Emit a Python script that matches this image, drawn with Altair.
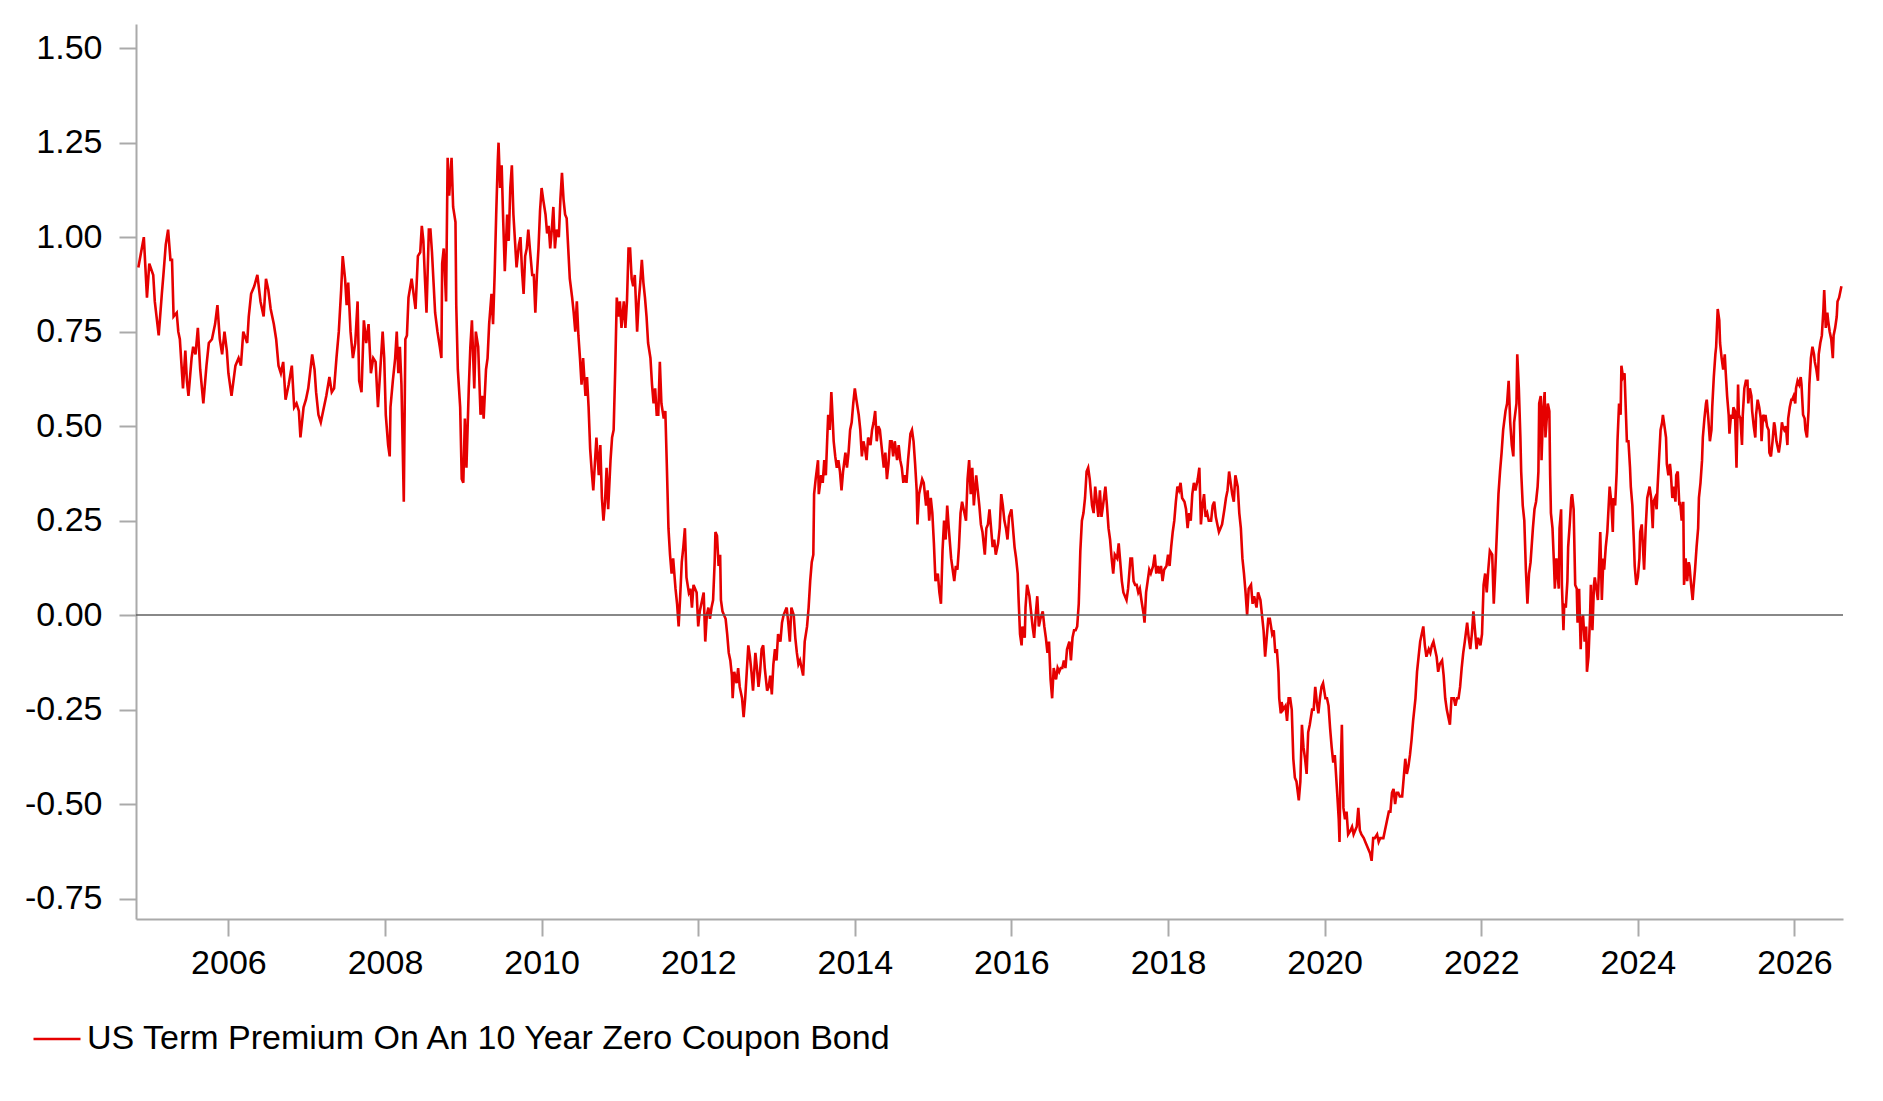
import altair as alt
import pandas as pd

SERIES = "US Term Premium On An 10 Year Zero Coupon Bond"
RED = "#e60000"

# (decimal year, term premium in %)
tp_2005_2008 = [
    (2004.85, 0.92), (2004.92, 1.00), (2004.94, 0.92), (2004.96, 0.84), (2004.99, 0.93),
    (2005.04, 0.90), (2005.06, 0.83), (2005.11, 0.74), (2005.15, 0.85), (2005.17, 0.90),
    (2005.20, 0.98), (2005.23, 1.02), (2005.26, 0.94), (2005.28, 0.94), (2005.30, 0.79),
    (2005.34, 0.80), (2005.36, 0.75), (2005.38, 0.73), (2005.42, 0.60), (2005.45, 0.70),
    (2005.47, 0.62), (2005.49, 0.58), (2005.53, 0.68), (2005.55, 0.71), (2005.58, 0.69),
    (2005.61, 0.76), (2005.64, 0.65), (2005.68, 0.56), (2005.72, 0.66), (2005.75, 0.72),
    (2005.79, 0.73), (2005.83, 0.77), (2005.86, 0.82), (2005.89, 0.73), (2005.92, 0.69),
    (2005.95, 0.75), (2005.98, 0.70), (2006.00, 0.64), (2006.04, 0.58), (2006.09, 0.66),
    (2006.13, 0.68), (2006.16, 0.66), (2006.19, 0.75), (2006.24, 0.72), (2006.26, 0.79),
    (2006.29, 0.85), (2006.33, 0.87), (2006.37, 0.90), (2006.41, 0.83), (2006.45, 0.79),
    (2006.48, 0.89), (2006.51, 0.86), (2006.54, 0.81), (2006.58, 0.77), (2006.61, 0.73),
    (2006.64, 0.66), (2006.67, 0.64), (2006.70, 0.67), (2006.73, 0.57), (2006.77, 0.61),
    (2006.81, 0.66), (2006.84, 0.55), (2006.87, 0.56), (2006.90, 0.54), (2006.92, 0.47),
    (2006.96, 0.55), (2006.99, 0.57), (2007.02, 0.60), (2007.07, 0.69), (2007.10, 0.65),
    (2007.12, 0.59), (2007.15, 0.53), (2007.18, 0.51), (2007.21, 0.54), (2007.25, 0.58),
    (2007.29, 0.63), (2007.32, 0.59), (2007.35, 0.60), (2007.38, 0.68), (2007.41, 0.75),
    (2007.44, 0.86), (2007.46, 0.95), (2007.49, 0.89), (2007.51, 0.82), (2007.53, 0.88),
    (2007.56, 0.75), (2007.59, 0.68), (2007.62, 0.72), (2007.65, 0.83), (2007.67, 0.62),
    (2007.70, 0.59), (2007.73, 0.78), (2007.76, 0.72), (2007.79, 0.77), (2007.82, 0.64),
    (2007.85, 0.68), (2007.88, 0.67), (2007.91, 0.55), (2007.94, 0.65), (2007.97, 0.75),
    (2007.99, 0.68), (2008.01, 0.53), (2008.04, 0.45), (2008.06, 0.42), (2008.07, 0.55),
    (2008.10, 0.62), (2008.13, 0.68), (2008.15, 0.75), (2008.17, 0.64), (2008.19, 0.71),
    (2008.21, 0.61), (2008.24, 0.30), (2008.26, 0.73), (2008.28, 0.74), (2008.30, 0.84),
]

tp_2008_2011 = [
    (2008.34, 0.89), (2008.39, 0.81), (2008.42, 0.95), (2008.45, 0.96), (2008.47, 1.03),
    (2008.49, 0.99), (2008.51, 0.89), (2008.53, 0.80), (2008.56, 1.02), (2008.58, 1.02),
    (2008.60, 0.96), (2008.62, 0.88), (2008.64, 0.80), (2008.67, 0.75), (2008.70, 0.71),
    (2008.72, 0.68), (2008.73, 0.93), (2008.75, 0.97), (2008.78, 0.83), (2008.80, 1.21),
    (2008.82, 1.11), (2008.85, 1.21), (2008.87, 1.08), (2008.90, 1.04), (2008.91, 0.82),
    (2008.93, 0.65), (2008.96, 0.55), (2008.98, 0.36), (2009.00, 0.35), (2009.02, 0.52),
    (2009.04, 0.39), (2009.07, 0.60), (2009.09, 0.71), (2009.11, 0.78), (2009.14, 0.60),
    (2009.16, 0.75), (2009.19, 0.71), (2009.22, 0.53), (2009.24, 0.58), (2009.26, 0.52),
    (2009.29, 0.65), (2009.31, 0.68), (2009.33, 0.77), (2009.36, 0.85), (2009.38, 0.77),
    (2009.40, 0.90), (2009.42, 1.06), (2009.44, 1.20), (2009.45, 1.25), (2009.47, 1.13),
    (2009.49, 1.19), (2009.51, 1.04), (2009.53, 0.91), (2009.56, 1.06), (2009.58, 0.99),
    (2009.60, 1.13), (2009.62, 1.19), (2009.64, 1.06), (2009.66, 0.99), (2009.68, 0.92),
    (2009.71, 0.98), (2009.73, 1.00), (2009.75, 0.91), (2009.77, 0.85), (2009.79, 0.95),
    (2009.81, 0.97), (2009.83, 1.02), (2009.85, 0.97), (2009.88, 0.90), (2009.90, 0.90),
    (2009.92, 0.80), (2009.94, 0.90), (2009.96, 0.97), (2009.98, 1.07), (2010.00, 1.13),
    (2010.02, 1.10), (2010.05, 1.06), (2010.07, 1.01), (2010.09, 1.03), (2010.11, 0.97),
    (2010.13, 1.02), (2010.15, 1.08), (2010.17, 0.97), (2010.19, 1.02), (2010.22, 1.00),
    (2010.24, 1.10), (2010.26, 1.17), (2010.28, 1.10), (2010.30, 1.06), (2010.32, 1.05),
    (2010.34, 0.97), (2010.36, 0.89), (2010.39, 0.84), (2010.41, 0.80), (2010.43, 0.75),
    (2010.45, 0.83), (2010.47, 0.74), (2010.49, 0.68), (2010.51, 0.61), (2010.53, 0.68),
    (2010.56, 0.58), (2010.58, 0.63), (2010.60, 0.55), (2010.62, 0.44), (2010.64, 0.38),
    (2010.66, 0.33), (2010.68, 0.40), (2010.70, 0.47), (2010.73, 0.37), (2010.75, 0.45),
    (2010.77, 0.31), (2010.79, 0.25), (2010.81, 0.30), (2010.83, 0.39), (2010.85, 0.28),
    (2010.88, 0.41), (2010.90, 0.47), (2010.92, 0.49), (2010.94, 0.65), (2010.96, 0.84),
    (2010.98, 0.79), (2011.00, 0.83), (2011.02, 0.76), (2011.05, 0.83), (2011.07, 0.76),
    (2011.09, 0.83), (2011.11, 0.97), (2011.13, 0.97), (2011.15, 0.89), (2011.17, 0.87),
    (2011.19, 0.90), (2011.22, 0.75), (2011.24, 0.83), (2011.26, 0.88), (2011.28, 0.94),
    (2011.30, 0.88), (2011.32, 0.84), (2011.34, 0.79), (2011.36, 0.72), (2011.39, 0.68),
    (2011.41, 0.61), (2011.43, 0.56), (2011.45, 0.60), (2011.47, 0.53), (2011.49, 0.53),
    (2011.51, 0.67), (2011.53, 0.56), (2011.56, 0.52), (2011.58, 0.54), (2011.60, 0.39),
    (2011.62, 0.23), (2011.64, 0.16), (2011.66, 0.11), (2011.68, 0.15), (2011.71, 0.07),
    (2011.73, 0.03), (2011.75, -0.03), (2011.77, 0.05), (2011.79, 0.14), (2011.81, 0.18),
    (2011.83, 0.23), (2011.85, 0.10), (2011.88, 0.06), (2011.90, 0.07), (2011.92, 0.02),
    (2011.94, 0.08),
]

tp_2012_2015 = [
    (2011.98, 0.06), (2012.00, -0.03), (2012.02, 0.01), (2012.05, 0.04), (2012.07, 0.06),
    (2012.09, -0.07), (2012.11, 0.00), (2012.13, 0.02), (2012.15, -0.01), (2012.17, 0.02),
    (2012.19, 0.04), (2012.21, 0.14), (2012.22, 0.22), (2012.24, 0.21), (2012.26, 0.13),
    (2012.28, 0.16), (2012.29, 0.04), (2012.31, 0.01), (2012.33, 0.00), (2012.35, -0.01),
    (2012.37, -0.05), (2012.39, -0.10), (2012.41, -0.12), (2012.43, -0.16), (2012.44, -0.22),
    (2012.46, -0.15), (2012.49, -0.18), (2012.51, -0.14), (2012.53, -0.19), (2012.56, -0.22),
    (2012.58, -0.27), (2012.60, -0.22), (2012.62, -0.15), (2012.64, -0.08), (2012.66, -0.11),
    (2012.68, -0.15), (2012.70, -0.20), (2012.73, -0.10), (2012.75, -0.14), (2012.77, -0.19),
    (2012.79, -0.15), (2012.81, -0.09), (2012.83, -0.08), (2012.85, -0.14), (2012.88, -0.20),
    (2012.90, -0.19), (2012.92, -0.16), (2012.94, -0.21), (2012.96, -0.13), (2012.98, -0.09),
    (2013.00, -0.12), (2013.02, -0.05), (2013.05, -0.07), (2013.07, -0.02), (2013.09, 0.00),
    (2013.11, 0.01), (2013.13, 0.02), (2013.15, -0.02), (2013.17, -0.07), (2013.19, 0.02),
    (2013.22, 0.00), (2013.24, -0.06), (2013.26, -0.10), (2013.28, -0.13), (2013.30, -0.12),
    (2013.32, -0.14), (2013.34, -0.16), (2013.36, -0.07), (2013.39, -0.03), (2013.41, 0.02),
    (2013.43, 0.09), (2013.45, 0.14), (2013.47, 0.16), (2013.48, 0.32), (2013.50, 0.36),
    (2013.53, 0.41), (2013.54, 0.32), (2013.57, 0.37), (2013.59, 0.35), (2013.61, 0.41),
    (2013.63, 0.37), (2013.65, 0.48), (2013.66, 0.53), (2013.68, 0.49), (2013.70, 0.59),
    (2013.71, 0.55), (2013.73, 0.46), (2013.75, 0.42), (2013.77, 0.39), (2013.79, 0.41),
    (2013.81, 0.38), (2013.83, 0.33), (2013.85, 0.38), (2013.88, 0.43), (2013.90, 0.39),
    (2013.92, 0.43), (2013.94, 0.49), (2013.96, 0.51), (2013.98, 0.56), (2014.00, 0.60),
    (2014.02, 0.57), (2014.05, 0.53), (2014.07, 0.49), (2014.09, 0.42), (2014.11, 0.46),
    (2014.13, 0.44), (2014.15, 0.41), (2014.17, 0.47), (2014.20, 0.45), (2014.22, 0.49),
    (2014.24, 0.51), (2014.26, 0.54), (2014.28, 0.46), (2014.30, 0.50), (2014.32, 0.49),
    (2014.34, 0.45), (2014.37, 0.39), (2014.39, 0.43), (2014.41, 0.36), (2014.43, 0.40),
    (2014.45, 0.46), (2014.47, 0.46), (2014.49, 0.42), (2014.51, 0.46), (2014.54, 0.41),
    (2014.56, 0.45), (2014.58, 0.41), (2014.60, 0.39), (2014.62, 0.35), (2014.64, 0.37),
    (2014.66, 0.35), (2014.68, 0.41), (2014.71, 0.48), (2014.73, 0.49), (2014.75, 0.46),
    (2014.77, 0.40), (2014.79, 0.33), (2014.80, 0.24), (2014.82, 0.32), (2014.84, 0.34),
    (2014.86, 0.36), (2014.88, 0.35), (2014.91, 0.29), (2014.93, 0.33), (2014.95, 0.25),
    (2014.97, 0.31), (2014.99, 0.27), (2015.01, 0.19), (2015.03, 0.09), (2015.06, 0.11),
    (2015.08, 0.06), (2015.10, 0.03), (2015.12, 0.17), (2015.14, 0.25), (2015.16, 0.20),
    (2015.18, 0.29), (2015.20, 0.23), (2015.23, 0.15), (2015.25, 0.12), (2015.27, 0.09),
    (2015.29, 0.13), (2015.31, 0.12), (2015.33, 0.18), (2015.35, 0.27), (2015.37, 0.30),
    (2015.40, 0.27), (2015.42, 0.25), (2015.44, 0.36), (2015.46, 0.41), (2015.48, 0.32),
    (2015.50, 0.39), (2015.52, 0.29),
]

tp_2015_2019 = [
    (2015.55, 0.37), (2015.57, 0.33), (2015.59, 0.29), (2015.61, 0.24), (2015.63, 0.22),
    (2015.66, 0.16), (2015.68, 0.23), (2015.70, 0.24), (2015.72, 0.28), (2015.74, 0.23),
    (2015.76, 0.18), (2015.78, 0.20), (2015.80, 0.16), (2015.83, 0.19), (2015.85, 0.23),
    (2015.87, 0.32), (2015.89, 0.29), (2015.91, 0.25), (2015.93, 0.23), (2015.95, 0.20),
    (2015.97, 0.26), (2016.00, 0.28), (2016.02, 0.23), (2016.04, 0.18), (2016.06, 0.15),
    (2016.08, 0.11), (2016.09, 0.05), (2016.11, -0.05), (2016.13, -0.08), (2016.14, -0.03),
    (2016.17, -0.06), (2016.18, 0.02), (2016.20, 0.08), (2016.23, 0.05), (2016.25, 0.01),
    (2016.27, -0.03), (2016.29, -0.06), (2016.31, 0.00), (2016.33, 0.05), (2016.35, -0.03),
    (2016.37, -0.01), (2016.40, 0.01), (2016.42, -0.03), (2016.44, -0.06), (2016.46, -0.10),
    (2016.48, -0.07), (2016.50, -0.17), (2016.52, -0.22), (2016.54, -0.14), (2016.57, -0.17),
    (2016.59, -0.14), (2016.61, -0.15), (2016.63, -0.14), (2016.65, -0.14), (2016.67, -0.12),
    (2016.69, -0.14), (2016.71, -0.09), (2016.74, -0.07), (2016.76, -0.12), (2016.78, -0.06),
    (2016.80, -0.04), (2016.82, -0.04), (2016.84, -0.03), (2016.86, 0.03), (2016.88, 0.17),
    (2016.90, 0.25), (2016.92, 0.27), (2016.94, 0.31), (2016.96, 0.38), (2016.98, 0.39),
    (2017.00, 0.36), (2017.03, 0.29), (2017.05, 0.27), (2017.07, 0.34), (2017.09, 0.30),
    (2017.11, 0.26), (2017.13, 0.33), (2017.15, 0.26), (2017.17, 0.29), (2017.20, 0.34),
    (2017.22, 0.29), (2017.24, 0.23), (2017.26, 0.20), (2017.28, 0.15), (2017.30, 0.11),
    (2017.32, 0.16), (2017.35, 0.15), (2017.37, 0.19), (2017.39, 0.14), (2017.41, 0.09),
    (2017.43, 0.06), (2017.45, 0.05), (2017.47, 0.04), (2017.49, 0.07), (2017.52, 0.15),
    (2017.54, 0.15), (2017.56, 0.09), (2017.58, 0.08), (2017.60, 0.08), (2017.62, 0.06),
    (2017.64, 0.07), (2017.66, 0.04), (2017.69, 0.00), (2017.70, -0.02), (2017.72, 0.06),
    (2017.74, 0.09), (2017.76, 0.12), (2017.78, 0.11), (2017.81, 0.13), (2017.83, 0.16),
    (2017.85, 0.11), (2017.87, 0.13), (2017.89, 0.11), (2017.91, 0.13), (2017.93, 0.09),
    (2017.95, 0.12), (2017.98, 0.13), (2018.00, 0.16), (2018.02, 0.13), (2018.04, 0.18),
    (2018.06, 0.22), (2018.08, 0.25), (2018.10, 0.30), (2018.12, 0.34), (2018.14, 0.33),
    (2018.16, 0.35), (2018.18, 0.31), (2018.21, 0.30), (2018.23, 0.28), (2018.25, 0.23),
    (2018.27, 0.27), (2018.29, 0.25), (2018.31, 0.32), (2018.33, 0.35), (2018.35, 0.33),
    (2018.38, 0.36), (2018.40, 0.39), (2018.42, 0.24), (2018.44, 0.29), (2018.46, 0.32),
    (2018.48, 0.26), (2018.50, 0.27), (2018.52, 0.25), (2018.55, 0.25), (2018.57, 0.29),
    (2018.59, 0.30), (2018.61, 0.26), (2018.63, 0.24), (2018.65, 0.22), (2018.67, 0.23),
    (2018.69, 0.24), (2018.72, 0.28), (2018.74, 0.31), (2018.76, 0.33), (2018.78, 0.38),
    (2018.80, 0.35), (2018.82, 0.32), (2018.84, 0.30), (2018.86, 0.37), (2018.89, 0.34),
    (2018.91, 0.27), (2018.93, 0.23), (2018.95, 0.15), (2018.97, 0.11), (2018.99, 0.06),
    (2019.01, 0.00), (2019.03, 0.07), (2019.06, 0.08), (2019.08, 0.03), (2019.10, 0.05),
]

tp_2019_2022 = [
    (2019.11, 0.04), (2019.13, 0.02), (2019.15, 0.06), (2019.18, 0.04), (2019.20, 0.00),
    (2019.22, -0.04), (2019.24, -0.11), (2019.26, -0.06), (2019.28, -0.01), (2019.30, -0.01),
    (2019.33, -0.05), (2019.35, -0.04), (2019.37, -0.10), (2019.39, -0.09), (2019.41, -0.15),
    (2019.42, -0.22), (2019.44, -0.26), (2019.45, -0.23), (2019.47, -0.25), (2019.50, -0.24),
    (2019.52, -0.28), (2019.54, -0.22), (2019.56, -0.22), (2019.58, -0.25), (2019.60, -0.38),
    (2019.62, -0.43), (2019.64, -0.44), (2019.67, -0.49), (2019.69, -0.44), (2019.71, -0.29),
    (2019.73, -0.35), (2019.75, -0.38), (2019.77, -0.42), (2019.79, -0.31), (2019.81, -0.29),
    (2019.84, -0.25), (2019.86, -0.25), (2019.88, -0.19), (2019.90, -0.23), (2019.92, -0.26),
    (2019.94, -0.22), (2019.96, -0.19), (2019.98, -0.18), (2020.01, -0.22), (2020.03, -0.22),
    (2020.05, -0.24), (2020.07, -0.30), (2020.09, -0.35), (2020.11, -0.39), (2020.13, -0.37),
    (2020.16, -0.47), (2020.18, -0.54), (2020.19, -0.60), (2020.20, -0.45), (2020.22, -0.29),
    (2020.24, -0.51), (2020.26, -0.54), (2020.28, -0.52), (2020.30, -0.58), (2020.33, -0.57),
    (2020.35, -0.56), (2020.37, -0.58), (2020.39, -0.57), (2020.41, -0.56), (2020.43, -0.51),
    (2020.45, -0.57), (2020.47, -0.58), (2020.50, -0.59), (2020.52, -0.60), (2020.54, -0.61),
    (2020.56, -0.62), (2020.58, -0.63), (2020.60, -0.65), (2020.62, -0.59), (2020.64, -0.59),
    (2020.67, -0.58), (2020.69, -0.60), (2020.71, -0.59), (2020.73, -0.59), (2020.75, -0.59),
    (2020.77, -0.57), (2020.79, -0.55), (2020.82, -0.52), (2020.84, -0.52), (2020.86, -0.47),
    (2020.88, -0.46), (2020.90, -0.50), (2020.92, -0.47), (2020.94, -0.47), (2020.96, -0.48),
    (2020.99, -0.48), (2021.01, -0.43), (2021.03, -0.38), (2021.05, -0.42), (2021.07, -0.40),
    (2021.09, -0.37), (2021.11, -0.33), (2021.13, -0.28), (2021.16, -0.22), (2021.18, -0.15),
    (2021.20, -0.11), (2021.22, -0.07), (2021.24, -0.05), (2021.26, -0.03), (2021.28, -0.08),
    (2021.30, -0.11), (2021.33, -0.09), (2021.35, -0.10), (2021.37, -0.08), (2021.39, -0.07),
    (2021.41, -0.09), (2021.43, -0.11), (2021.45, -0.15), (2021.47, -0.13), (2021.50, -0.12),
    (2021.52, -0.16), (2021.54, -0.22), (2021.56, -0.25), (2021.58, -0.27), (2021.60, -0.29),
    (2021.62, -0.22), (2021.65, -0.22), (2021.67, -0.24), (2021.69, -0.22), (2021.71, -0.22),
    (2021.73, -0.19), (2021.75, -0.14), (2021.77, -0.10), (2021.79, -0.07), (2021.82, -0.02),
    (2021.84, -0.06), (2021.86, -0.09), (2021.88, -0.05), (2021.90, 0.01), (2021.92, -0.04),
    (2021.94, -0.09), (2021.96, -0.06), (2021.99, -0.08), (2022.01, -0.05),
]

tp_2022 = [
    (2022.03, 0.08), (2022.05, 0.11), (2022.07, 0.06), (2022.09, 0.12), (2022.11, 0.17),
    (2022.14, 0.16), (2022.16, 0.03), (2022.18, 0.12), (2022.20, 0.22), (2022.22, 0.32),
    (2022.24, 0.38), (2022.26, 0.43), (2022.28, 0.49), (2022.31, 0.54), (2022.33, 0.56),
    (2022.35, 0.62), (2022.37, 0.51), (2022.39, 0.45), (2022.41, 0.42), (2022.42, 0.51),
    (2022.45, 0.56), (2022.46, 0.69), (2022.48, 0.60), (2022.50, 0.47), (2022.51, 0.38),
    (2022.53, 0.29), (2022.55, 0.25), (2022.57, 0.12), (2022.59, 0.03), (2022.61, 0.11),
    (2022.63, 0.14), (2022.66, 0.23), (2022.68, 0.28),
]

tp_2023_2026 = [
    (2022.70, 0.30), (2022.72, 0.34), (2022.73, 0.38), (2022.74, 0.56), (2022.76, 0.58),
    (2022.77, 0.41), (2022.79, 0.54), (2022.81, 0.59), (2022.82, 0.47), (2022.85, 0.56),
    (2022.87, 0.54), (2022.88, 0.37), (2022.89, 0.27), (2022.91, 0.23), (2022.93, 0.13),
    (2022.94, 0.07), (2022.96, 0.15), (2022.99, 0.07), (2023.00, 0.23), (2023.02, 0.28),
    (2023.03, 0.08), (2023.05, -0.04), (2023.06, 0.03), (2023.08, 0.02), (2023.10, 0.09),
    (2023.11, 0.18), (2023.13, 0.24), (2023.15, 0.31), (2023.16, 0.32), (2023.18, 0.28),
    (2023.20, 0.08), (2023.22, 0.07), (2023.23, -0.02), (2023.25, 0.07), (2023.27, -0.09),
    (2023.28, -0.02), (2023.30, 0.00), (2023.32, -0.07), (2023.34, -0.03), (2023.35, -0.15),
    (2023.37, -0.11), (2023.39, 0.00), (2023.40, 0.08), (2023.42, -0.04), (2023.44, 0.08),
    (2023.45, 0.10), (2023.47, 0.07), (2023.49, 0.04), (2023.51, 0.16), (2023.52, 0.22),
    (2023.54, 0.04), (2023.56, 0.15), (2023.57, 0.12), (2023.59, 0.18), (2023.61, 0.22),
    (2023.62, 0.26), (2023.64, 0.34), (2023.66, 0.30), (2023.68, 0.22), (2023.69, 0.31),
    (2023.71, 0.29), (2023.73, 0.38), (2023.74, 0.46), (2023.76, 0.56), (2023.78, 0.53),
    (2023.79, 0.66), (2023.81, 0.63), (2023.83, 0.64), (2023.85, 0.52), (2023.86, 0.46),
    (2023.88, 0.46), (2023.90, 0.39), (2023.91, 0.34), (2023.93, 0.29), (2023.95, 0.19),
    (2023.96, 0.13), (2023.98, 0.08), (2024.00, 0.10), (2024.02, 0.15), (2024.03, 0.22),
    (2024.05, 0.24), (2024.07, 0.16), (2024.08, 0.12), (2024.10, 0.23), (2024.12, 0.31),
    (2024.14, 0.33), (2024.15, 0.34), (2024.17, 0.31), (2024.19, 0.23), (2024.20, 0.30),
    (2024.22, 0.31), (2024.24, 0.28), (2024.25, 0.33), (2024.27, 0.41), (2024.29, 0.49),
    (2024.31, 0.51), (2024.32, 0.53), (2024.34, 0.50), (2024.36, 0.47), (2024.37, 0.40),
    (2024.39, 0.37), (2024.41, 0.40), (2024.42, 0.38), (2024.44, 0.31), (2024.46, 0.34),
    (2024.48, 0.30), (2024.49, 0.37), (2024.51, 0.38), (2024.53, 0.29), (2024.54, 0.30),
    (2024.56, 0.25), (2024.58, 0.30), (2024.59, 0.08), (2024.61, 0.15), (2024.63, 0.09),
    (2024.65, 0.14), (2024.66, 0.13), (2024.68, 0.08), (2024.70, 0.04), (2024.71, 0.07),
    (2024.73, 0.12), (2024.75, 0.18), (2024.77, 0.23), (2024.78, 0.31), (2024.80, 0.35),
    (2024.82, 0.41), (2024.83, 0.47), (2024.85, 0.52), (2024.87, 0.56), (2024.88, 0.57),
    (2024.90, 0.52), (2024.92, 0.46), (2024.94, 0.49), (2024.95, 0.55), (2024.97, 0.63),
    (2024.99, 0.69), (2025.00, 0.71), (2025.02, 0.81), (2025.04, 0.78), (2025.05, 0.72),
    (2025.07, 0.68), (2025.09, 0.65), (2025.11, 0.69), (2025.12, 0.65), (2025.14, 0.58),
    (2025.16, 0.53), (2025.17, 0.48), (2025.19, 0.53), (2025.21, 0.52), (2025.22, 0.55),
    (2025.24, 0.54), (2025.26, 0.39), (2025.28, 0.61), (2025.29, 0.53), (2025.31, 0.52),
    (2025.33, 0.45), (2025.34, 0.53), (2025.36, 0.60), (2025.38, 0.62), (2025.40, 0.62),
    (2025.41, 0.56), (2025.43, 0.60), (2025.45, 0.58), (2025.46, 0.54), (2025.48, 0.50),
    (2025.50, 0.47), (2025.51, 0.53), (2025.53, 0.57), (2025.55, 0.55), (2025.57, 0.52),
    (2025.58, 0.46), (2025.60, 0.53), (2025.62, 0.52), (2025.63, 0.53), (2025.65, 0.50),
    (2025.67, 0.49), (2025.68, 0.43), (2025.70, 0.42), (2025.72, 0.46), (2025.74, 0.51),
    (2025.75, 0.50), (2025.77, 0.46), (2025.79, 0.44), (2025.80, 0.43), (2025.82, 0.46),
    (2025.84, 0.51), (2025.85, 0.50), (2025.87, 0.49), (2025.89, 0.50), (2025.91, 0.45),
    (2025.92, 0.52), (2025.94, 0.55), (2025.96, 0.57), (2025.97, 0.57), (2025.99, 0.58),
    (2026.01, 0.56), (2026.02, 0.60), (2026.04, 0.62), (2026.06, 0.61), (2026.08, 0.63),
    (2026.09, 0.61), (2026.11, 0.53), (2026.13, 0.52), (2026.14, 0.49), (2026.16, 0.47),
    (2026.18, 0.54), (2026.19, 0.61), (2026.21, 0.68), (2026.23, 0.71), (2026.25, 0.69),
    (2026.26, 0.67), (2026.28, 0.65), (2026.30, 0.62), (2026.31, 0.69), (2026.33, 0.72),
    (2026.35, 0.74), (2026.37, 0.81), (2026.38, 0.86), (2026.40, 0.76), (2026.42, 0.80),
    (2026.43, 0.78), (2026.45, 0.75), (2026.47, 0.73), (2026.49, 0.68), (2026.50, 0.74),
    (2026.52, 0.76), (2026.54, 0.79), (2026.55, 0.83), (2026.57, 0.84), (2026.59, 0.86),
    (2026.60, 0.87),
]

x_ticks = list(range(2006, 2027, 2))
y_ticks = [-0.75, -0.5, -0.25, 0.0, 0.25, 0.5, 0.75, 1.0, 1.25, 1.5]
x_domain = [2004.82, 2026.62]
y_domain = [-0.804, 1.564]

rows = []
for era in (tp_2005_2008, tp_2008_2011, tp_2012_2015, tp_2015_2019,
            tp_2019_2022, tp_2022, tp_2023_2026):
    rows.extend(era)
df = pd.DataFrame(rows, columns=["year", "tp"])
df["series"] = SERIES

FONT = "Liberation Sans"
axis_common = dict(
    grid=False,
    domainColor="#aaaaaa",
    domainWidth=2,
    tickColor="#aaaaaa",
    tickWidth=2,
    tickSize=17,
    labelFont=FONT,
    labelFontSize=34,
    labelColor="black",
)

line = alt.Chart(df).mark_line(strokeWidth=2.6, interpolate="linear").encode(
    x=alt.X(
        "year:Q",
        title=None,
        scale=alt.Scale(domain=x_domain, nice=False, zero=False),
        axis=alt.Axis(values=x_ticks, format="d", labelPadding=10, **axis_common),
    ),
    y=alt.Y(
        "tp:Q",
        title=None,
        scale=alt.Scale(domain=y_domain, nice=False, zero=False),
        axis=alt.Axis(
            values=y_ticks,
            labelPadding=17,
            labelExpr="datum.value < 0 ? '-' + format(-datum.value, '.2f') : format(datum.value, '.2f')",
            **axis_common,
        ),
    ),
    color=alt.Color(
        "series:N",
        scale=alt.Scale(domain=[SERIES], range=[RED]),
        legend=alt.Legend(
            title=None,
            orient="none",
            legendX=-104,
            legendY=990,
            symbolType="stroke",
            symbolSize=2209,
            symbolStrokeWidth=2.5,
            labelFont=FONT,
            labelFontSize=34,
            labelColor="black",
            labelOffset=5,
            labelLimit=1200,
            padding=0,
        ),
    ),
)

zero_line = alt.Chart(pd.DataFrame({"level": [0.0]})).mark_rule(
    color="#606060", strokeWidth=1.5
).encode(y="level:Q")

chart = (line + zero_line).properties(
    width=1707,
    height=895,
    padding={"left": 128, "top": 16, "right": 30, "bottom": 170},
    autosize=alt.AutoSizeParams(type="none"),
).configure_view(strokeWidth=0)

chart.save("out.html", embed_options={"renderer": "svg", "actions": False})
